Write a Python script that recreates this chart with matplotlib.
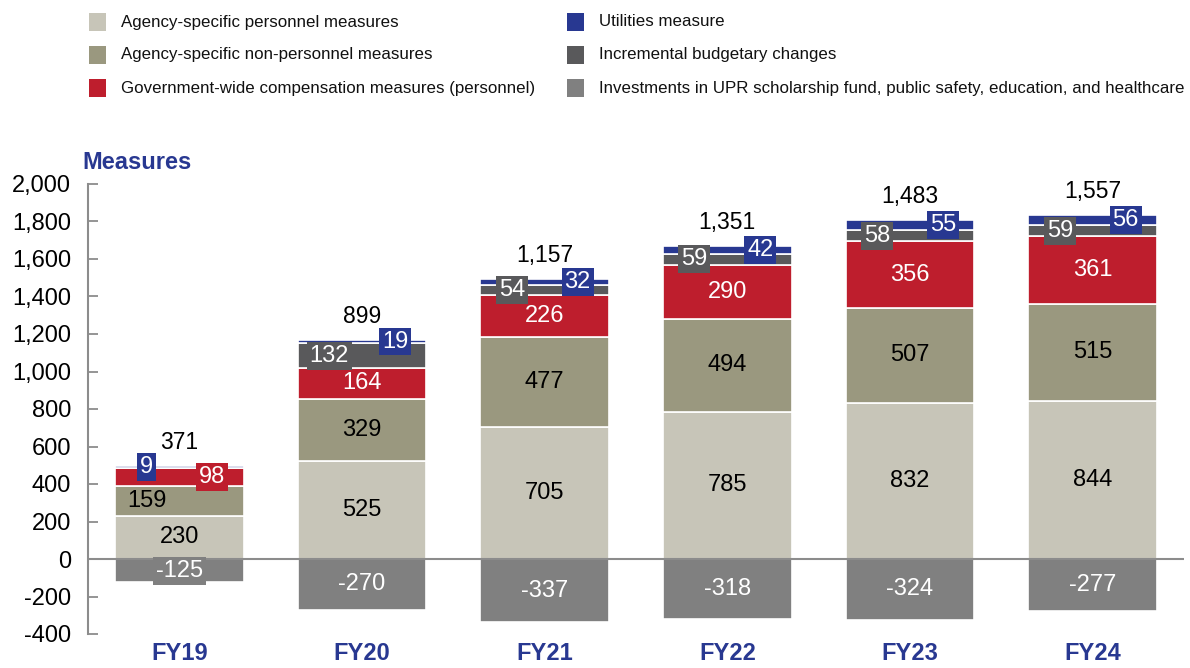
import numpy as np
import matplotlib
matplotlib.use('Agg')
from matplotlib import pyplot as plt
from matplotlib.patches import Rectangle
from matplotlib.ticker import FuncFormatter

plt.rcParams['font.family'] = ['Liberation Sans', 'DejaVu Sans']

years = ['FY19', 'FY20', 'FY21', 'FY22', 'FY23', 'FY24']
personnel = [230, 525, 705, 785, 832, 844]
non_personnel = [159, 329, 477, 494, 507, 515]
gov_wide = [98, 164, 226, 290, 356, 361]
incremental = [0, 132, 54, 59, 58, 59]
utilities = [9, 19, 32, 42, 55, 56]
investments = [-125, -270, -337, -318, -324, -277]
totals = [371, 899, 1157, 1351, 1483, 1557]

names = {
    'personnel': 'Agency-specific personnel measures',
    'non_personnel': 'Agency-specific non-personnel measures',
    'gov_wide': 'Government-wide compensation measures (personnel)',
    'utilities': 'Utilities measure',
    'incremental': 'Incremental budgetary changes',
    'investments': 'Investments in UPR scholarship fund, public safety, education, and healthcare',
}
colors = {
    'personnel': '#C7C5B8',
    'non_personnel': '#9A987F',
    'gov_wide': '#BE1E2D',
    'incremental': '#59595B',
    'utilities': '#283891',
    'investments': '#808080',
}
navy = '#283891'
axis_gray = '#8C8C8C'

W, H = 1190, 668
fig = plt.figure(figsize=(W / 100, H / 100), dpi=100)
ax = fig.add_axes([88 / W, 1 - 634 / H, (1184 - 88) / W, (634 - 184) / H])

x = np.arange(len(years))
width = 0.705

positive = [('personnel', personnel), ('non_personnel', non_personnel),
            ('gov_wide', gov_wide), ('incremental', incremental),
            ('utilities', utilities)]

bottom = np.zeros(len(years))
segments = []
for key, vals in positive:
    vals = np.array(vals, dtype=float)
    ax.bar(x, vals, width, bottom=bottom, color=colors[key],
           edgecolor='white', linewidth=1.2, zorder=2)
    segments.append((key, vals, bottom + vals / 2))
    bottom = bottom + vals
tops = bottom

neg = np.array(investments, dtype=float)
ax.bar(x, neg, width, color=colors['investments'], edgecolor='white',
       linewidth=1.2, zorder=2)
segments.append(('investments', neg, neg / 2))

ax.axhline(0, color=axis_gray, lw=1.5, zorder=3)

# thin segments get side-shifted boxed labels so they don't collide
for key, vals, mids in segments:
    for i, v in enumerate(vals):
        if v == 0:
            continue
        dx = 0.0
        if key == 'incremental':
            dx = -0.18
        elif key == 'utilities':
            dx = 0.18 if incremental[i] else -0.18
        elif incremental[i] == 0 and key == 'gov_wide':
            dx = 0.18
        elif incremental[i] == 0 and key == 'non_personnel':
            dx = -0.18
        dark_text = key in ('personnel', 'non_personnel')
        kw = {}
        if not dark_text:
            kw['bbox'] = dict(boxstyle='square,pad=0.12', fc=colors[key],
                              ec='none')
        ax.text(i + dx, mids[i], f'{int(v)}', ha='center', va='center',
                fontsize=17, color='black' if dark_text else 'white',
                zorder=5, **kw)

for i, t in enumerate(totals):
    ax.annotate(f'{t:,}', xy=(i, tops[i]), xytext=(0, 17),
                textcoords='offset pixels', ha='center', va='baseline',
                fontsize=16.5, color='black', annotation_clip=False)

ax.set_xlim(-0.5, 5.5)
ax.set_ylim(-400, 2000)
ax.set_yticks(np.arange(-400, 2001, 200))
ax.yaxis.set_major_formatter(FuncFormatter(lambda v, p: f'{v:,.0f}'))
ax.tick_params(axis='y', direction='in', length=7, width=1.3,
               color=axis_gray, pad=12, labelsize=17)
ax.set_xticks(x, years)
ax.tick_params(axis='x', length=0, pad=6, labelsize=17, labelcolor=navy)
for lbl in ax.get_xticklabels():
    lbl.set_fontweight('bold')

for side in ('top', 'right', 'bottom'):
    ax.spines[side].set_visible(False)
ax.spines['left'].set_color(axis_gray)
ax.spines['left'].set_linewidth(1.5)

fig.text(82 / W, 1 - 169 / H, 'Measures', fontsize=17, fontweight='bold',
         color=navy, ha='left', va='baseline')

# two-column legend across the top
legend_cols = [['personnel', 'non_personnel', 'gov_wide'],
               ['utilities', 'incremental', 'investments']]
col_x = [89, 567]
row_y = [22, 55, 88]
for c, keys in enumerate(legend_cols):
    for r, key in enumerate(keys):
        fig.patches.append(Rectangle(
            (col_x[c] / W, 1 - (row_y[r] + 9) / H), 17 / W, 18 / H,
            transform=fig.transFigure, fc=colors[key], ec='none'))
        fig.text((col_x[c] + 32) / W, 1 - row_y[r] / H, names[key],
                 fontsize=12.2, ha='left', va='center', color='#111111')

fig.savefig('out.png', dpi=100)
